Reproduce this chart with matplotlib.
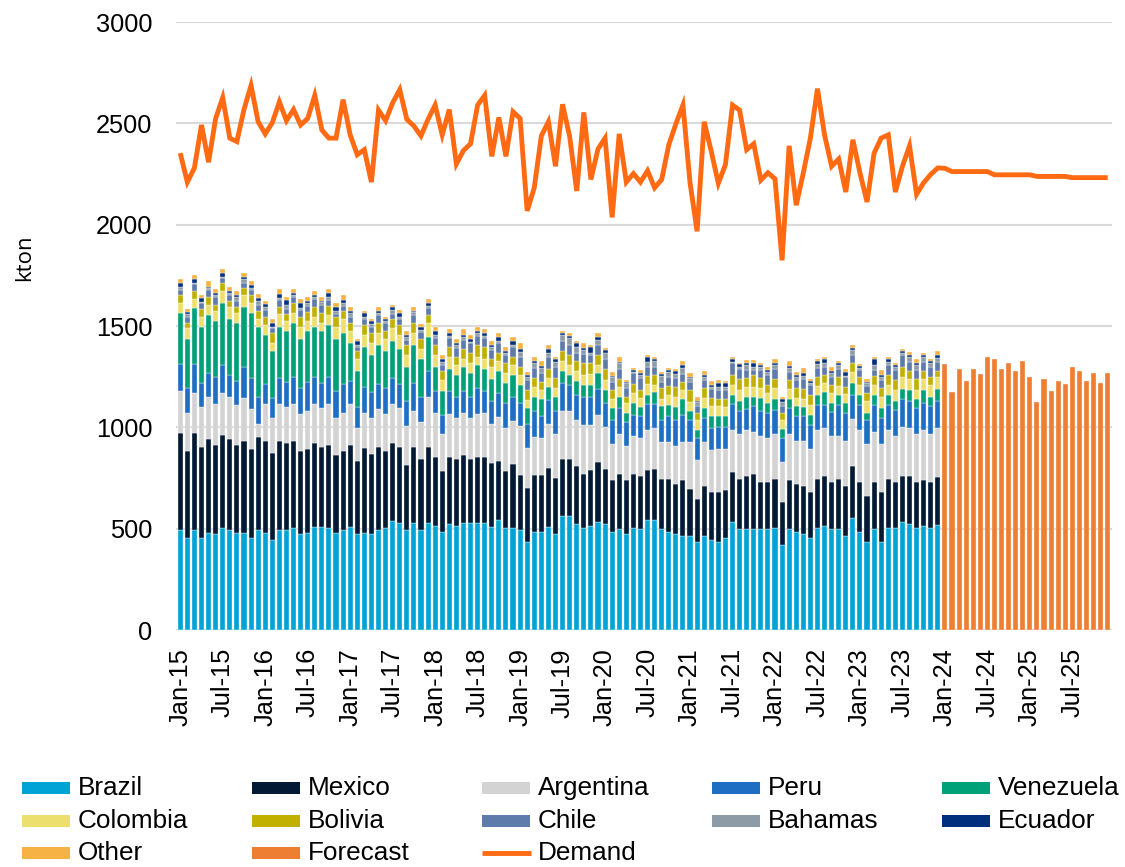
import numpy as np
import matplotlib
matplotlib.use("Agg")
import matplotlib.pyplot as plt
from matplotlib.patches import Rectangle
from matplotlib.lines import Line2D

plt.rcParams['font.family'] = ['Liberation Sans', 'DejaVu Sans']

# ---------------- data (kton) ----------------
brazil = [493,452,493,452,480,474,502,493,480,480,
          452,493,480,444,493,493,502,474,480,510,
          510,502,480,493,510,474,477,474,493,502,
          540,530,493,530,493,530,513,485,521,513,
          530,530,530,530,510,543,502,502,493,433,
          485,485,510,474,561,561,523,504,512,533,
          523,484,496,474,504,496,545,545,496,484,
          474,466,466,433,466,446,435,455,533,496,
          500,499,496,499,504,417,496,484,474,455,
          504,515,496,496,466,553,484,435,496,435,
          504,504,533,523,504,515,504,520]
mexico = [481,433,481,453,463,439,460,450,433,453,
          441,461,454,431,440,432,431,411,413,415,
          395,411,384,392,403,362,420,393,412,383,
          385,375,321,375,351,375,342,301,334,331,
          334,314,325,325,316,293,284,316,272,266,
          280,280,288,274,284,284,284,266,276,294,
          273,254,274,264,266,262,243,251,251,263,
          246,272,231,215,243,233,244,234,245,251,
          258,271,233,230,243,215,242,236,235,224,
          243,243,233,251,243,254,245,225,233,244,
          243,225,225,235,225,223,225,237]
argentina = [207,187,197,197,209,201,209,209,197,210,
             198,63,180,170,181,177,181,179,189,189,
             189,201,181,187,201,159,175,178,186,179,
             189,189,193,177,181,247,217,180,209,201,
             208,201,209,217,189,217,209,215,242,198,
             189,181,217,218,238,238,227,243,225,235,
             208,179,197,168,185,189,197,200,179,179,
             186,188,229,189,217,207,215,205,207,220,
             227,205,226,218,220,197,229,214,225,215,
             238,238,226,208,226,235,256,257,246,238,
             238,226,246,238,238,247,238,238]
peru = [130,121,140,119,118,136,137,106,120,157,
        151,135,98,98,128,120,136,129,140,136,
        127,136,136,140,116,107,129,128,121,129,
        128,118,123,139,127,128,109,95,117,107,
        109,107,129,109,117,118,127,119,115,118,
        128,110,120,116,138,126,126,139,139,128,
        118,117,128,118,107,107,129,118,108,128,
        128,136,108,110,119,110,110,110,129,116,
        105,128,128,126,119,118,128,120,120,119,
        126,115,123,156,138,118,126,117,136,128,
        126,131,137,136,128,137,136,136]
venezuela = [255,243,276,276,285,277,307,275,287,296,
             324,345,244,235,255,255,267,243,255,247,
             256,255,255,255,188,176,197,184,194,185,
             184,175,170,185,185,168,119,120,107,106,
             119,115,115,107,107,107,99,106,87,79,
             70,84,66,70,57,50,69,57,57,80,
             60,61,57,49,60,46,46,58,69,57,
             66,77,47,38,50,58,50,50,46,49,
             62,49,61,46,55,44,46,49,46,49,
             49,61,44,49,49,58,49,39,49,50,
             49,46,49,50,46,60,49,59]
colombia = [49,53,46,49,49,47,58,63,49,57,
            49,39,49,40,61,48,49,61,48,49,
            40,50,61,68,59,59,58,61,61,58,
            63,69,57,61,50,69,57,53,61,50,
            37,49,41,49,61,49,49,50,49,41,
            49,44,41,41,50,49,49,50,55,38,
            52,46,46,46,46,47,53,37,38,49,
            52,46,46,49,49,49,49,46,49,53,
            49,49,49,49,52,43,47,41,41,49,
            44,46,46,44,41,57,49,59,49,57,
            49,53,57,55,44,57,57,60]
bolivia = [38,28,40,38,41,30,41,29,30,33,
           38,40,41,46,38,34,46,49,46,50,
           46,46,46,39,36,40,49,49,46,41,
           44,49,49,50,49,38,49,44,46,41,
           50,49,57,58,37,42,46,41,42,49,
           41,38,46,49,49,49,50,57,52,49,
           53,41,39,33,45,38,41,50,52,44,
           49,41,55,39,49,41,38,41,50,54,
           41,58,49,41,46,39,46,49,47,49,
           46,41,41,43,38,41,41,36,45,41,
           50,49,53,41,54,41,38,28]
chile = [25,29,33,28,33,41,21,28,29,28,
         25,28,33,25,33,25,33,33,28,37,
         41,28,15,25,33,18,28,30,42,36,
         25,28,25,38,36,32,33,30,44,41,
         44,50,45,44,45,46,41,46,49,50,
         49,48,61,58,51,49,37,46,41,49,
         49,44,51,41,54,57,46,41,33,46,
         41,38,44,33,41,44,44,44,57,49,
         41,24,41,50,48,33,41,41,49,49,
         41,41,41,40,46,41,33,36,29,41,
         49,49,57,46,44,44,53,44]
bahamas = [16,13,8,8,8,8,9,8,17,16,
           8,21,17,8,11,20,8,8,13,8,
           13,13,18,16,17,11,13,11,8,12,
           21,10,13,16,9,12,17,16,12,16,
           13,8,13,12,13,13,12,11,25,16,
           25,21,20,24,27,33,33,20,12,25,
           29,21,28,25,8,17,24,28,28,25,
           22,27,16,21,16,13,16,13,8,12,
           25,17,17,16,21,21,16,13,17,12,
           20,16,17,21,8,25,12,14,27,16,
           16,17,8,25,25,25,16,18]
ecuador = [20,9,20,17,8,12,16,12,11,14,
           17,12,11,20,16,25,12,25,13,13,
           8,23,20,14,11,20,17,17,11,8,
           17,20,12,5,16,16,21,13,16,12,
           12,13,13,16,11,16,9,20,11,8,
           11,12,16,12,12,12,20,11,29,16,
           17,8,8,8,8,8,25,8,10,8,
           14,17,8,5,9,8,17,20,12,11,
           8,19,8,8,11,13,14,12,16,8,
           17,20,13,11,16,11,8,8,26,9,
           12,8,12,8,11,8,12,18]
other = [18,16,18,16,28,18,20,18,20,16,
         21,19,18,18,25,16,18,21,20,20,
         20,18,19,24,18,10,13,10,18,10,
         8,16,20,20,11,18,20,20,18,18,
         28,20,20,18,20,20,17,22,30,17,
         22,24,21,13,8,16,10,25,8,17,
         11,20,22,8,9,16,8,10,11,12,
         10,20,20,20,19,22,16,13,10,8,
         17,14,11,17,17,12,23,13,22,10,
         9,10,20,9,17,13,10,13,13,24,
         10,11,10,16,17,8,9,20]
forecast = [1311,1173,1289,1230,1289,1262,1349,1339,1289,1319,1280,1329,
            1250,1123,1240,1181,1230,1212,1299,1280,1230,1270,1220,1270]
demand = [2353,2210,2280,2492,2308,2524,2627,2427,2410,2568,
          2687,2508,2448,2503,2606,2513,2568,2492,2524,2638,
          2467,2427,2427,2617,2443,2345,2370,2210,2565,2513,
          2601,2666,2520,2487,2438,2520,2590,2443,2568,2300,
          2366,2399,2590,2638,2337,2529,2337,2557,2524,2068,
          2182,2438,2508,2288,2594,2435,2166,2554,2223,2373,
          2427,2036,2448,2210,2252,2210,2266,2182,2223,2394,
          2497,2590,2207,1967,2508,2362,2204,2296,2590,2565,
          2370,2399,2220,2256,2226,1824,2389,2096,2256,2427,
          2671,2443,2288,2324,2161,2419,2256,2112,2353,2427,
          2443,2161,2288,2389,2150,2207,2248,2280,2278,2262,
          2262,2262,2262,2262,2262,2246,2246,2246,2246,2246,
          2246,2238,2238,2238,2238,2238,2232,2232,2232,2232,
          2232,2232]

series_names = ["Brazil", "Mexico", "Argentina", "Peru", "Venezuela",
                "Colombia", "Bolivia", "Chile", "Bahamas", "Ecuador", "Other"]
series_values = [brazil, mexico, argentina, peru, venezuela,
                 colombia, bolivia, chile, bahamas, ecuador, other]
series_colors = ["#00A3D6", "#021A33", "#D2D3D2", "#1E6EC4", "#00A078",
                 "#EDDF6E", "#C1B000", "#5E7BAB", "#8D9BA6", "#002F7E", "#F6B244"]
forecast_color = "#EE7E32"
demand_color = "#FF6A12"

years = list(range(15, 26))
tick_labels = []
for y in years:
    tick_labels += [f"Jan-{y}", f"Jul-{y}"]

# ---------------- figure ----------------
W, H = 1125, 867
fig = plt.figure(figsize=(W / 100, H / 100), dpi=100)
ax = fig.add_axes([176 / W, 1 - 630 / H, (1112 - 176) / W, (630 - 22) / H])

n_hist = len(brazil)
x_hist = np.arange(n_hist)
x_fc = np.arange(n_hist, n_hist + len(forecast))
x_all = np.arange(len(demand))
bw = 0.72

bottom = np.zeros(n_hist)
for name, vals, col in zip(series_names, series_values, series_colors):
    v = np.array(vals, dtype=float)
    ax.bar(x_hist, v, bw, bottom=bottom, color=col, edgecolor="white",
           linewidth=0.25, zorder=2)
    bottom += v
ax.bar(x_fc, forecast, bw, color=forecast_color, edgecolor="white",
       linewidth=0.25, zorder=2)
ax.plot(x_all, demand, color=demand_color, lw=3.5, zorder=3,
        solid_joinstyle="miter", solid_capstyle="butt")

ax.set_xlim(-0.6, len(demand) - 0.4)
ax.set_ylim(0, 3000)
ax.set_yticks(np.arange(0, 3001, 500))
ax.yaxis.grid(True, color="#D9D9D9", linewidth=1.5, zorder=0)
ax.set_axisbelow(True)
for s in ax.spines.values():
    s.set_visible(False)
ax.set_xticks(np.arange(0, len(demand), 6))
ax.set_xticklabels(tick_labels, rotation=90, fontsize=18.3)
ax.tick_params(axis="x", length=0, pad=13)
ax.tick_params(axis="y", length=0, pad=17, labelsize=18.3)

fig.text(25 / W, 1 - 258 / H, "kton", rotation=90, ha="center", va="center",
         fontsize=16, family=["Open Sans", "DejaVu Sans"])

# ---------------- legend ----------------
legend_entries = list(zip(series_names, series_colors)) + [("Forecast", forecast_color)]
col_x = [22, 252, 482, 712, 942]
row_y = [788, 821, 853]
entries = legend_entries + [("Demand", None)]
for i, (name, col) in enumerate(entries):
    r, c = divmod(i, 5)
    x0, yc = col_x[c], row_y[r]
    if col is not None:
        fig.add_artist(Rectangle((x0 / W, 1 - (yc + 6) / H), 48 / W, 12 / H,
                                 transform=fig.transFigure, color=col, lw=0))
    else:
        fig.add_artist(Line2D([x0 / W, (x0 + 49) / W], [1 - yc / H, 1 - yc / H],
                              transform=fig.transFigure, color=demand_color,
                              lw=3.5, solid_capstyle="butt"))
    fig.text((x0 + 56) / W, 1 - yc / H, name, ha="left", va="center",
             fontsize=18.8)

fig.savefig("out.png", dpi=100)
